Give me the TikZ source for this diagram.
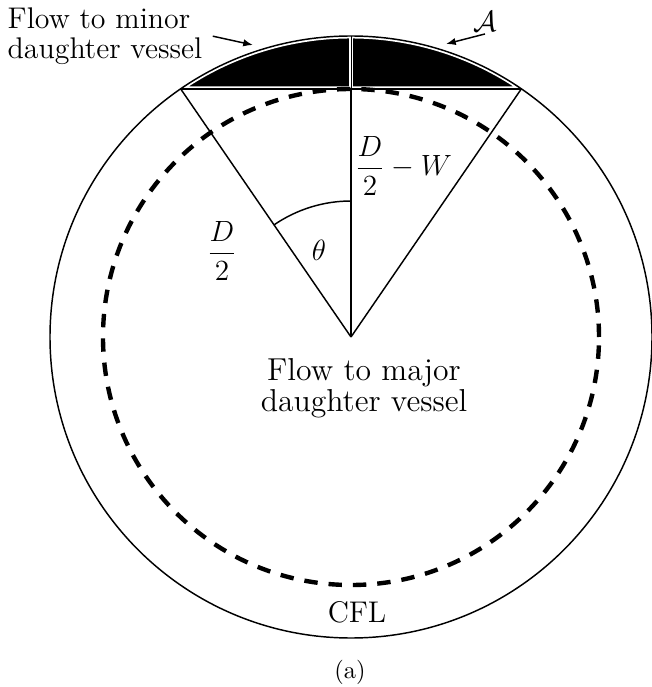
\documentclass[tikz,border=0pt]{standalone}
\usetikzlibrary{arrows.meta}
\tikzset{
  lbl/.style={font=\fontsize{12.25}{12.3}\selectfont, inner sep=0pt},
  biglbl/.style={font=\fontsize{13}{10.7}\selectfont, inner sep=0pt},
  cfldash/.style={line width=1.8pt, dash pattern=on 5.5pt off 4.5pt},
  ptr/.style={-{Latex[length=4pt,width=3pt]}, line width=0.6pt}
}
\begin{document}
\begin{tikzpicture}[x=0.41pt, y=0.41pt, line width=0.6pt]
  \useasboundingbox (-351,-350) rectangle (300,337);
  \coordinate (O) at (0,0);
  \coordinate (cl) at (124.47:301);
  \coordinate (cr) at (55.53:301);
  \coordinate (cm) at (0,248);
  \coordinate (top) at (0,301);
  \coordinate (tipL) at (-98,292);
  \coordinate (tipR) at (95,293);
  % skimmed layer
  \fill (cl) arc (124.47:55.53:301) -- cycle;
  \draw[white, line width=2pt, line join=round] (cl) arc (124.47:55.53:301) -- cycle;
  \draw[white, line width=1.5pt] (cm) -- (top);
  \draw[line width=0.3pt] (cm) -- (top);
  \draw[cfldash] (O) circle (248); % CFL edge
  \draw (O) circle (301);
  \draw (cl) -- (cr);
  \draw (O) -- (cl);
  \draw (O) -- (cr);
  \draw (O) -- (cm);
  \draw (0,136) arc (90:124.47:136); % angle
  \node[lbl, anchor=north west, align=left] (minor) at (-344,330) {Flow to minor\\daughter vessel};
  \node[lbl, font=\fontsize{13}{13}\selectfont] (calA) at (134,315) {$\mathcal{A}$};
  \draw[ptr] ([yshift=-0.5pt]calA.south) -- (tipR);
  \draw[ptr] ([xshift=4pt]minor.east) -- (tipL);
  \node[lbl] (half) at (-129,86) {$\displaystyle\frac{D}{2}$};
  \node[lbl, anchor=west] (gap) at (3,171) {$\displaystyle\frac{D}{2}-W$};
  \node[lbl] (th) at (-32,87) {$\theta$};
  \node[biglbl, align=center, anchor=north] (major) at (13,-21) {Flow to major\\daughter vessel};
  \node[lbl, anchor=base] (cfl) at (6,-285) {CFL};
  \node[inner sep=0pt] (cap) at (-1,-335) {(a)};
\end{tikzpicture}
\end{document}
